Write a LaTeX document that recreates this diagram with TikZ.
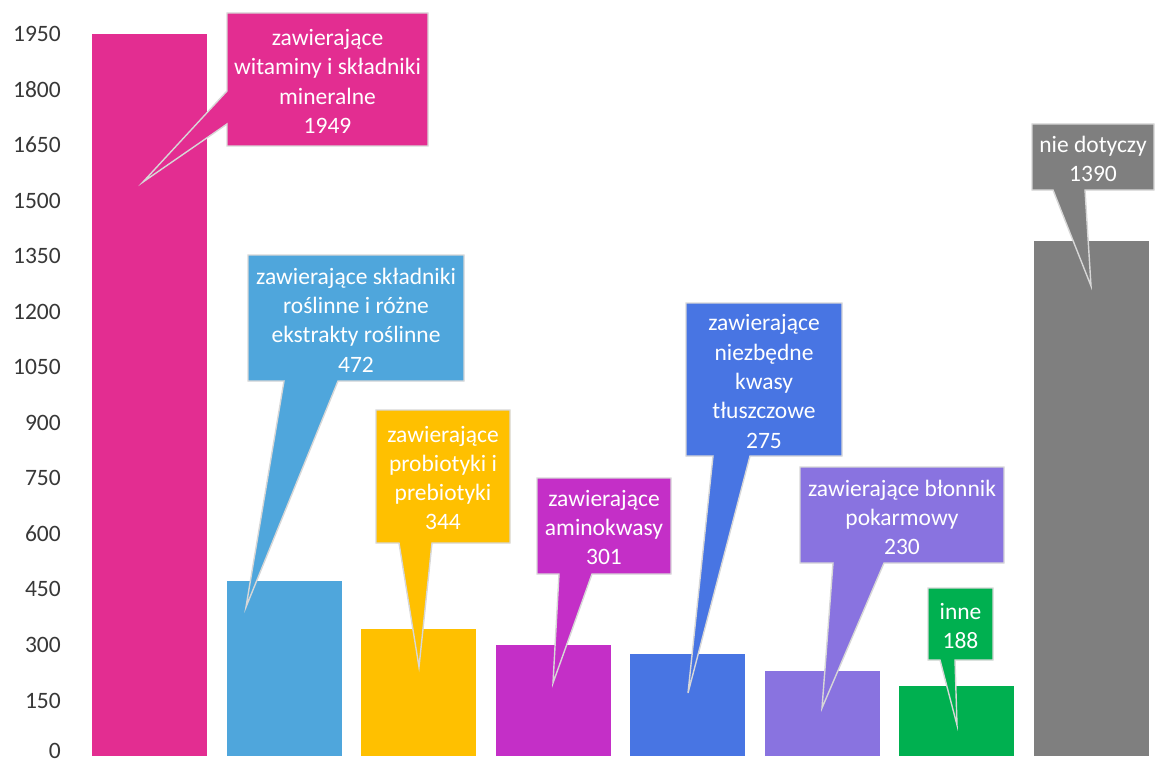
\documentclass[tikz,border=0pt]{standalone}
\usepackage{fontspec}
\setmainfont{Carlito}
\definecolor{cMag}{RGB}{227,45,145}
\definecolor{cSky}{RGB}{79,166,220}
\definecolor{cYel}{RGB}{255,192,0}
\definecolor{cPur}{RGB}{196,47,199}
\definecolor{cBlu}{RGB}{72,117,227}
\definecolor{cLav}{RGB}{137,115,224}
\definecolor{cGrn}{RGB}{0,176,80}
\definecolor{cGry}{RGB}{127,127,127}
\definecolor{cBrd}{RGB}{215,215,215}
\definecolor{cTxt}{RGB}{56,56,56}
\begin{document}
\begin{tikzpicture}[x=1pt,y=-1pt,
  callout/.style={draw=cBrd, line width=1.4pt, line join=miter},
  lbl/.style={text=white, font=\fontsize{23.5}{29.3}\selectfont, align=center, inner sep=0},
  tick/.style={anchor=east, inner sep=0, text=cTxt, font=\fontsize{23.5}{28}\selectfont}]
\useasboundingbox (0,0) rectangle (1155,762);
% axis labels
\foreach \v in {150,300,...,1950}{
  \node[tick] (t\v) at (61,{756-\v*0.37026}) {\v};
}
\node[tick] (t0) at (61,750.5) {0};
% bars
\fill[cMag] (92,34.4) rectangle (207,756);
\fill[cSky] (226.5,581.2) rectangle (341.5,756);
\fill[cYel] (361,628.6) rectangle (476,756);
\fill[cPur] (495.5,644.6) rectangle (610.5,756);
\fill[cBlu] (630,654.2) rectangle (745,756);
\fill[cLav] (764.5,670.8) rectangle (879.5,756);
\fill[cGrn] (899,686.4) rectangle (1014,756);
\fill[cGry] (1033.5,241.3) rectangle (1148.5,756);
% callouts
\path[callout, fill=cMag] (227,13) -- (428,13) -- (428,146) -- (227,146) -- (227,124) -- (143,182) -- (227,91) -- cycle;
\node[lbl] (c1) at (327.5,81.5) {zawierające\\witaminy i składniki\\mineralne\\1949};
\path[callout, fill=cSky] (248,255) -- (464,255) -- (464,381) -- (338,381) -- (246,607) -- (284,381) -- (248,381) -- cycle;
\node[lbl] (c2) at (356,320) {zawierające składniki\\roślinne i różne\\ekstrakty roślinne\\472};
\path[callout, fill=cYel] (376,410) -- (510,410) -- (510,543) -- (432,543) -- (419,667) -- (399,543) -- (376,543) -- cycle;
\node[lbl] (c3) at (443,478) {zawierające\\probiotyki i\\prebiotyki\\344};
\path[callout, fill=cPur] (537,478) -- (671,478) -- (671,574) -- (592,574) -- (553,683) -- (559,574) -- (537,574) -- cycle;
\node[lbl] (c4) at (604,527.5) {zawierające\\aminokwasy\\301};
\path[callout, fill=cBlu] (686,303) -- (842,303) -- (842,456) -- (750,456) -- (688,693) -- (713,456) -- (686,456) -- cycle;
\node[lbl] (c5) at (764,381.5) {zawierające\\niezbędne\\kwasy\\tłuszczowe\\275};
\path[callout, fill=cLav] (800,467) -- (1004,467) -- (1004,563) -- (884,563) -- (822,708) -- (833,563) -- (800,563) -- cycle;
\node[lbl] (c6) at (902,517.5) {zawierające błonnik\\pokarmowy\\230};
\path[callout, fill=cGrn] (928,588) -- (993,588) -- (993,660) -- (955,660) -- (957,725) -- (940,660) -- (928,660) -- cycle;
\node[lbl] (c7) at (960.5,626) {inne\\188};
\path[callout, fill=cGry] (1032,124) -- (1154,124) -- (1154,190) -- (1085,190) -- (1091,286) -- (1053,190) -- (1032,190) -- cycle;
\node[lbl] (c8) at (1093,159) {nie dotyczy\\1390};
\end{tikzpicture}
\end{document}
